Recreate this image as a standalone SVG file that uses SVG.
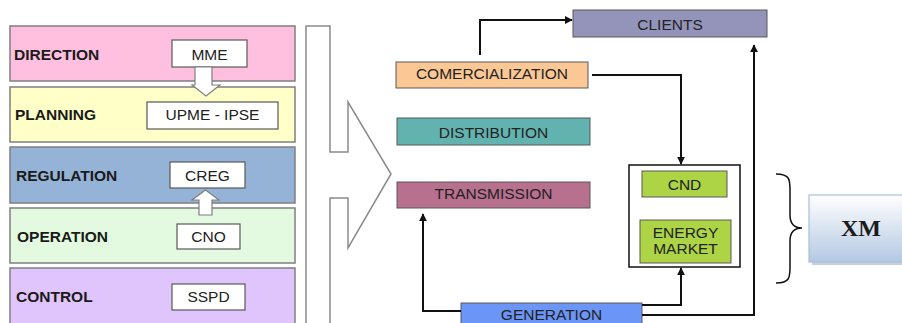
<svg xmlns="http://www.w3.org/2000/svg" width="902" height="323" viewBox="0 0 902 323">
<defs>
<style>
.band{stroke:#7f7f7f;stroke-width:1.5}
.lbl{font-family:"Liberation Sans",Arial,sans-serif;font-weight:bold;font-size:15.5px;fill:#1a1a1a}
.wb{fill:#fff;stroke:#595959;stroke-width:1.2}
.t{font-family:"Liberation Sans",Arial,sans-serif;font-size:15.5px;fill:#222;text-anchor:middle}
.box{stroke:#595959;stroke-width:1}
.conn{fill:none;stroke:#111;stroke-width:2}
.hollow{fill:#fff;stroke:#7f7f7f;stroke-width:1.2}
</style>
<marker id="ah" viewBox="0 0 10 10" refX="9" refY="5" markerWidth="4" markerHeight="4" orient="auto" markerUnits="strokeWidth">
<path d="M0,0 L10,5 L0,10 z" fill="#111"/>
</marker>
<linearGradient id="xmg" x1="0" y1="0" x2="0" y2="1">
<stop offset="0" stop-color="#ffffff"/>
<stop offset="1" stop-color="#b4c8e2"/>
</linearGradient>
</defs>
<rect width="902" height="323" fill="#fff"/>

<g id="direction">
<rect class="band" x="10" y="26" width="285" height="55" fill="#ffc0e0"/>
<text class="lbl" x="14" y="59.5">DIRECTION</text>
<rect class="wb" x="172" y="40" width="75" height="27"/>
<text class="t" x="209.5" y="59.5">MME</text>
</g>
<g id="planning">
<rect class="band" x="10" y="87" width="285" height="55" fill="#ffffc8"/>
<text class="lbl" x="15" y="119.5">PLANNING</text>
<rect class="wb" x="147" y="102" width="131" height="27"/>
<text class="t" x="212.5" y="119.5">UPME - IPSE</text>
</g>
<g id="regulation">
<rect class="band" x="10" y="147" width="285" height="56" fill="#95b3d7"/>
<text class="lbl" x="16" y="180.5">REGULATION</text>
<rect class="wb" x="170" y="162" width="75" height="26"/>
<text class="t" x="207.5" y="180.5">CREG</text>
</g>
<g id="operation">
<rect class="band" x="10" y="208" width="285" height="55" fill="#e4fae0"/>
<text class="lbl" x="17" y="241.5">OPERATION</text>
<rect class="wb" x="177" y="224" width="63" height="25"/>
<text class="t" x="208.5" y="241.5">CNO</text>
</g>
<g id="control">
<rect class="band" x="10" y="268" width="285" height="60" fill="#e0c4fc"/>
<text class="lbl" x="16" y="301.5">CONTROL</text>
<rect class="wb" x="172" y="284" width="73" height="26"/>
<text class="t" x="208.5" y="301.5">SSPD</text>
</g>

<g id="hollow-arrows">
<path class="hollow" d="M195,67 L212,67 L212,85 L220,85 L206,96 L192,85 L195,85 Z"/>
<path class="hollow" d="M199,215 L212,215 L212,200 L219,200 L205.5,190 L192,200 L199,200 Z"/>
</g>

<g id="big-arrow">
<path d="M306,330 L306,26 L330,26 L330,152 L348,152 L348,102 L391,174 L348,248 L348,198 L330,198 L330,330" fill="#fff" stroke="#8a8a8a" stroke-width="1.5"/>
</g>

<g id="clients">
<rect class="box" x="573" y="10" width="194" height="27" fill="#9494ba"/>
<text class="t" x="670" y="29.5">CLIENTS</text>
</g>
<g id="comercialization">
<rect class="box" x="396" y="62" width="192" height="26" fill="#fbc895"/>
<text class="t" x="492" y="78.5">COMERCIALIZATION</text>
</g>
<g id="distribution">
<rect class="box" x="397" y="118" width="193" height="27" fill="#62b3b0"/>
<text class="t" x="493.5" y="137.5">DISTRIBUTION</text>
</g>
<g id="transmission">
<rect class="box" x="397" y="182" width="193" height="26" fill="#b7708e"/>
<text class="t" x="493.5" y="198.5">TRANSMISSION</text>
</g>
<g id="generation">
<rect class="box" x="461" y="303" width="181" height="26" fill="#6b96f7"/>
<text class="t" x="551.5" y="319.5">GENERATION</text>
</g>
<g id="xm-group">
<rect x="629" y="165" width="111" height="102" fill="#fff" stroke="#111" stroke-width="1.5"/>
<g id="cnd">
<rect class="box" x="642" y="171" width="85" height="26" fill="#acd445"/>
<text class="t" x="684.5" y="189.5">CND</text>
</g>
<g id="energy-market">
<rect class="box" x="640" y="220" width="91" height="43" fill="#acd445"/>
<text class="t" x="685.5" y="237.5">ENERGY</text>
<text class="t" x="685.5" y="253.5">MARKET</text>
</g>
</g>
<g id="xm">
<rect x="812" y="198" width="94" height="67" fill="#9fb0c8" opacity="0.6"/>
<rect x="809" y="195" width="95" height="67" fill="url(#xmg)" stroke="#a8bfdc" stroke-width="1.2"/>
<text x="861" y="236" font-family="Liberation Serif,'Times New Roman',serif" font-weight="bold" font-size="24" fill="#1a1a1a" text-anchor="middle">XM</text>
</g>
<g id="brace">
<path d="M776,174 C790,174 790,180 790,190 L790,215 C790,224 794,228 802,228 C794,228 790,232 790,241 L790,267 C790,277 790,283 776,283" fill="none" stroke="#111" stroke-width="1.5"/>
</g>

<g id="connectors">
<path class="conn" d="M480,55 L480,20 L572,20" marker-end="url(#ah)"/>
<path class="conn" d="M592,75 L681,75 L681,164" marker-end="url(#ah)"/>
<path class="conn" d="M461,311 L423,311 L423,214" marker-end="url(#ah)"/>
<path class="conn" d="M642,305 L681,305 L681,268" marker-end="url(#ah)"/>
<path class="conn" d="M642,315 L754,315 L754,45" marker-end="url(#ah)"/>
</g>
</svg>
